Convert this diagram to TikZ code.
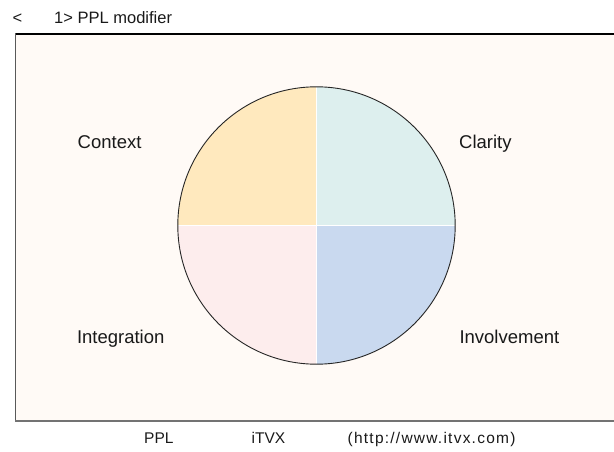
\documentclass[tikz,border=0pt]{standalone}
\usepackage{fontspec}
\setmainfont{Liberation Sans}
\definecolor{bgfill}{HTML}{FFFAF6}
\definecolor{qctx}{HTML}{FFE9BE}
\definecolor{qcla}{HTML}{DDEFEE}
\definecolor{qint}{HTML}{FDEDED}
\definecolor{qinv}{HTML}{C9D9EF}
\begin{document}
\begin{tikzpicture}[x=1pt,y=1pt,
  lbl/.style={inner sep=0pt,anchor=base west,font=\fontsize{18.5}{22}\selectfont,text=black!90},
  ttl/.style={inner sep=0pt,anchor=base west,font=\fontsize{16.5}{20}\selectfont,text=black!90},
  foot/.style={inner sep=0pt,anchor=base west,font=\fontsize{15.5}{19}\selectfont,text=black!90},
  sep/.style={white,line width=0.6pt}]
\useasboundingbox (0,0) rectangle (614,451);
% frame
\fill[bgfill] (15.7,30) rectangle (616,417);
\draw[black,line width=1.3pt] (15.7,417) -- (616,417);
\draw[black!65,line width=1.3pt] (15.7,417.6) -- (15.7,30);
\draw[black!55,line width=1.6pt] (15,30) -- (616,30);
% circle quadrants
\coordinate (c) at (316.5,225.5);
\def\rr{138.7}
\fill[qctx] (c) -- ++(180:\rr) arc (180:90:\rr) -- cycle;
\fill[qcla] (c) -- ++(90:\rr) arc (90:0:\rr) -- cycle;
\fill[qint] (c) -- ++(270:\rr) arc (270:180:\rr) -- cycle;
\fill[qinv] (c) -- ++(0:\rr) arc (0:-90:\rr) -- cycle;
\draw[sep] (c) -- ++(90:\rr);
\draw[sep] (c) -- ++(180:\rr);
\draw[sep] (c) -- ++(270:\rr);
\draw[sep] (c) -- ++(0:\rr);
\draw[black!85,line width=0.9pt] (c) circle (\rr);
% labels
\node[lbl] (ctx) at (77.5,302) {Context};
\node[lbl] (cla) at (459,302) {Clarity};
\node[lbl] (int) at (76.8,107.7) {Integration};
\node[lbl] (inv) at (459.3,107.7) {Involvement};
% title
\node[ttl] (lt) at (12.5,427) {<};
\node[ttl] (ttl) at (54,427) {1> PPL modifier};
% footer
\node[foot] (f1) at (144,7.7) {PPL};
\node[foot] (f2) at (251.5,7.7) {iTVX};
\node[foot] (f3) at (347.5,7.7) {\addfontfeature{LetterSpace=8}(http://www.itvx.com)};
\end{tikzpicture}
\end{document}
